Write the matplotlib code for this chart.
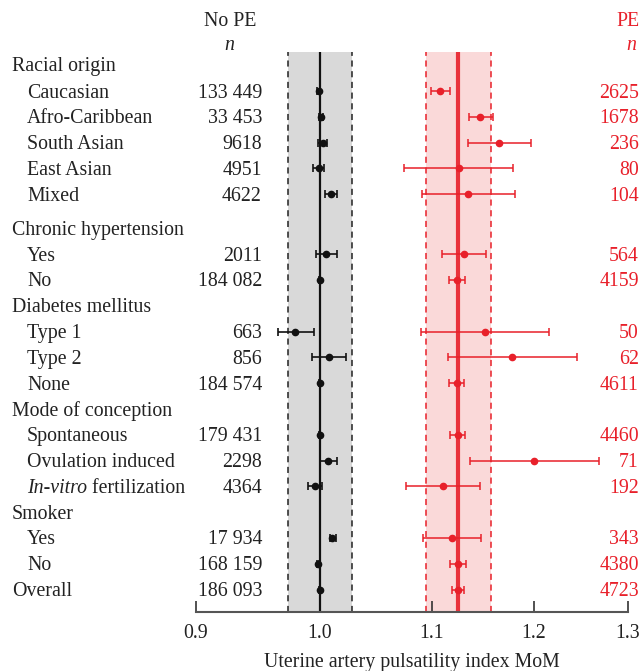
#!/usr/bin/env python3
"""
Forest plot: uterine artery PI MoM, No PE vs PE, by maternal characteristics.
"""

import numpy as np
import matplotlib
matplotlib.use("Agg")
import matplotlib.pyplot as plt
import matplotlib.transforms as mtransforms
from matplotlib.ticker import FixedLocator, FixedFormatter, NullLocator

plt.rcParams["font.family"] = ["Liberation Serif", "DejaVu Serif"]

RED = "#e8202a"

# données (None = ligne de titre de groupe)
labels = [
    "Racial origin", "Caucasian", "Afro-Caribbean", "South Asian", "East Asian", "Mixed",
    "Chronic hypertension", "Yes", "No",
    "Diabetes mellitus", "Type 1", "Type 2", "None",
    "Mode of conception", "Spontaneous", "Ovulation induced", "IVF",
    "Smoker", "Yes", "No",
    "Overall",
]
is_header = [True, False, False, False, False, False,
             True, False, False,
             True, False, False, False,
             True, False, False, False,
             True, False, False,
             True]
n_nope = [None, "133 449", "33 453", "9618", "4951", "4622",
          None, "2011", "184 082",
          None, "663", "856", "184 574",
          None, "179 431", "2298", "4364",
          None, "17 934", "168 159",
          "186 093"]
n_pe = [None, "2625", "1678", "236", "80", "104",
        None, "564", "4159",
        None, "50", "62", "4611",
        None, "4460", "71", "192",
        None, "343", "4380",
        "4723"]

nan = np.nan
nope_mid = [nan, 0.999, 1.001, 1.0026, 0.999, 1.0094,
            nan, 1.0057, 1.000,
            nan, 0.979, 1.0077, 1.000,
            nan, 1.000, 1.0071, 0.996,
            nan, 1.0108, 0.9986,
            1.000]
nope_lo = [nan, 0.998, 0.9994, 0.9986, 0.994, 1.0045,
           nan, 0.997, 0.9995,
           nan, 0.965, 0.9938, 0.9995,
           nan, 0.9995, 1.0003, 0.990,
           nan, 1.0085, 0.9978,
           0.9995]
nope_hi = [nan, 1.000, 1.003, 1.006, 1.004, 1.0146,
           nan, 1.0146, 1.0005,
           nan, 0.995, 1.0227, 1.0005,
           nan, 1.0005, 1.0146, 1.0023,
           nan, 1.0143, 0.9994,
           1.0005]

pe_mid = [nan, 1.1075, 1.1462, 1.1653, 1.1256, 1.1349,
          nan, 1.1307, 1.1237,
          nan, 1.1508, 1.1781, 1.1237,
          nan, 1.1244, 1.2001, 1.1106,
          nan, 1.1189, 1.1249,
          1.1249]
pe_lo = [nan, 1.0990, 1.1352, 1.1342, 1.0744, 1.0910,
         nan, 1.1095, 1.1166,
         nan, 1.0897, 1.1157, 1.1166,
         nan, 1.1172, 1.1368, 1.0766,
         nan, 1.0922, 1.1176,
         1.1196]
pe_hi = [nan, 1.1173, 1.1585, 1.1967, 1.1792, 1.1808,
         nan, 1.1524, 1.1316,
         nan, 1.2155, 1.2452, 1.1307,
         nan, 1.1316, 1.2688, 1.1466,
         nan, 1.1469, 1.1325,
         1.1302]

nope_ref, nope_band = 1.000, (0.973, 1.028)
pe_ref, pe_band = 1.125, (1.095, 1.157)

xticks = [0.9, 1.0, 1.1, 1.2, 1.3]

# positions verticales : pas de 1, un peu plus d'espace après le premier titre
# et avant "Chronic hypertension"
ypos = []
y = 0.0
for i, lab in enumerate(labels):
    if i == 1:
        y += 0.05
    if lab == "Chronic hypertension":
        y += 0.32
    ypos.append(y)
    y += 1.0
ypos = np.array(ypos)

W, H = 644, 671
STEP = 25.8  # px par ligne
Y0 = 64      # px de la première ligne
fig = plt.figure(figsize=(W / 100, H / 100), dpi=100)
ax = fig.add_axes([196 / W, 1 - 612 / H, (628 - 196) / W, (612 - 52) / H])

ax.set_xscale("log")
ax.set_xlim(0.9, 1.3)
ax.set_ylim((612 - Y0) / STEP, (52 - Y0) / STEP)

# bandes
ax.axvspan(*nope_band, color="#d9d9d9", lw=0, zorder=0)
ax.axvspan(*pe_band, color="#fad9d9", lw=0, zorder=0)
for xb in nope_band:
    ax.axvline(xb, color="#222222", ls=(0, (4, 3)), lw=1.1, zorder=1)
for xb in pe_band:
    ax.axvline(xb, color=RED, ls=(0, (4, 3)), lw=1.1, zorder=1)
ax.axvline(nope_ref, color="#111111", lw=1.6, zorder=2)
ax.axvline(pe_ref, color=RED, lw=3, alpha=0.9, zorder=2)

mid = np.array(nope_mid)
ax.errorbar(mid, ypos, xerr=[mid - np.array(nope_lo), np.array(nope_hi) - mid],
            fmt="o", color="#111111", ms=4.5, elinewidth=1.2, capsize=2.8,
            capthick=1.2, zorder=3)
mid = np.array(pe_mid)
ax.errorbar(mid, ypos, xerr=[mid - np.array(pe_lo), np.array(pe_hi) - mid],
            fmt="o", color=RED, ms=4.5, elinewidth=1.1, capsize=2.8,
            capthick=1.1, zorder=3)

# axes
for side in ("left", "right", "top"):
    ax.spines[side].set_visible(False)
ax.spines["bottom"].set_color("#555555")
ax.spines["bottom"].set_linewidth(1.5)
ax.xaxis.set_major_locator(FixedLocator(xticks))
ax.xaxis.set_major_formatter(FixedFormatter([f"{t:.1f}" for t in xticks]))
ax.xaxis.set_minor_locator(NullLocator())
ax.tick_params(axis="x", direction="in", length=8, width=1.2, color="#333333",
               labelsize=14.3, pad=9, labelcolor="#222222")
ax.set_yticks([])
ax.set_xlabel("Uterine artery pulsatility index MoM", fontsize=14.3,
              labelpad=7, color="#222222")

# textes à gauche / à droite
trans = mtransforms.blended_transform_factory(fig.transFigure, ax.transData)
trans = mtransforms.offset_copy(trans, fig=fig, x=0, y=-2, units="dots")
fs = 14.3
txt = "#222222"
renderer = fig.canvas.get_renderer()
for yy, lab, head, a, b in zip(ypos, labels, is_header, n_nope, n_pe):
    x0 = 12 / W if head else 27 / W
    if lab == "IVF":
        t = ax.text(x0, yy, "In-vitro", transform=trans, fontsize=fs,
                    style="italic", va="center", ha="left", color=txt)
        bb = t.get_window_extent(renderer)
        ax.text(bb.x1 / W, yy, " fertilization", transform=trans, fontsize=fs,
                va="center", ha="left", color=txt)
    else:
        ax.text(x0, yy, lab, transform=trans, fontsize=fs, va="center",
                ha="left", color=txt)
    if a:
        ax.text(262 / W, yy, a, transform=trans, fontsize=fs, va="center",
                ha="right", color=txt)
    if b:
        ax.text(639 / W, yy, b, transform=trans, fontsize=fs, va="center",
                ha="right", color=RED)

fig.text(230 / W, 1 - 22 / H, "No PE", fontsize=fs, ha="center", va="center", color=txt)
fig.text(229 / W, 1 - 45 / H, "n", fontsize=fs, style="italic", ha="center",
         va="center", color=txt)
fig.text(640 / W, 1 - 22 / H, "PE", fontsize=fs, ha="right", va="center", color=RED)
fig.text(631 / W, 1 - 45 / H, "n", fontsize=fs, style="italic", ha="center",
         va="center", color=RED)

fig.savefig("out.png", dpi=100)
